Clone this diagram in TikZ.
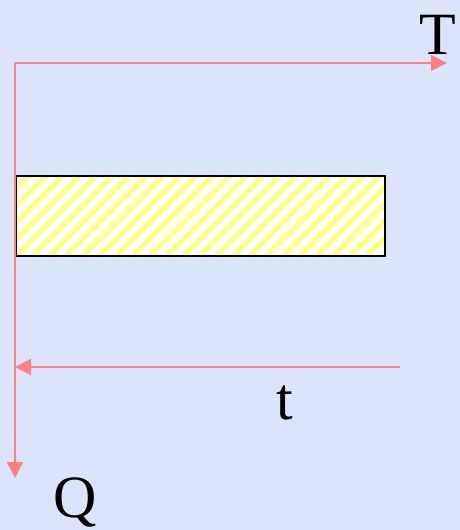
\documentclass[tikz,border=0pt]{standalone}
\usepackage{fontspec}
\setmainfont{Liberation Serif}
\usetikzlibrary{arrows.meta}
\definecolor{bgblue}{HTML}{DCE4FC}
\definecolor{axisred}{HTML}{FF8080}
\definecolor{stripe}{HTML}{FFFF88}
\tikzset{
  axis/.style={draw=axisred, line width=2pt, -{Triangle[length=16pt,width=16pt]}},
  lbl/.style={font=\fontsize{60}{60}\selectfont, inner sep=0pt, text=black}
}
\begin{document}
\begin{tikzpicture}[x=1pt,y=-1pt]
\useasboundingbox (0,0) rectangle (460,530);
\fill[bgblue] (0,0) rectangle (460,530);
% hatched bar
\begin{scope}
  \clip (15,175) rectangle (384,255);
  \fill[white] (15,175) rectangle (384,255);
  \foreach \a in {-100,-83.3,...,400} {
    \draw[stripe, line width=5.5pt] (\a,255) -- (\a+80,175);
  }
\end{scope}
\node[draw=black, line width=2pt, minimum width=369pt, minimum height=80pt, inner sep=0pt, anchor=north west] (bar) at (15,175) {};
% axes
\coordinate (corner) at (15,63);
\coordinate (tend) at (447,63);
\coordinate (qend) at (15,478);
\coordinate (tstart) at (400,367);
\coordinate (tarrow) at (15,367);
\draw[axis] (qend |- corner) -- (tend);
\draw[axis] (corner) -- (qend);
\draw[axis] (tstart) -- (tarrow);
\node[lbl] (T) at (438,35) {T};
\node[lbl] (t) at (285,403) {t};
\node[lbl] (Q) at (75,502) {Q};
\end{tikzpicture}
\end{document}
